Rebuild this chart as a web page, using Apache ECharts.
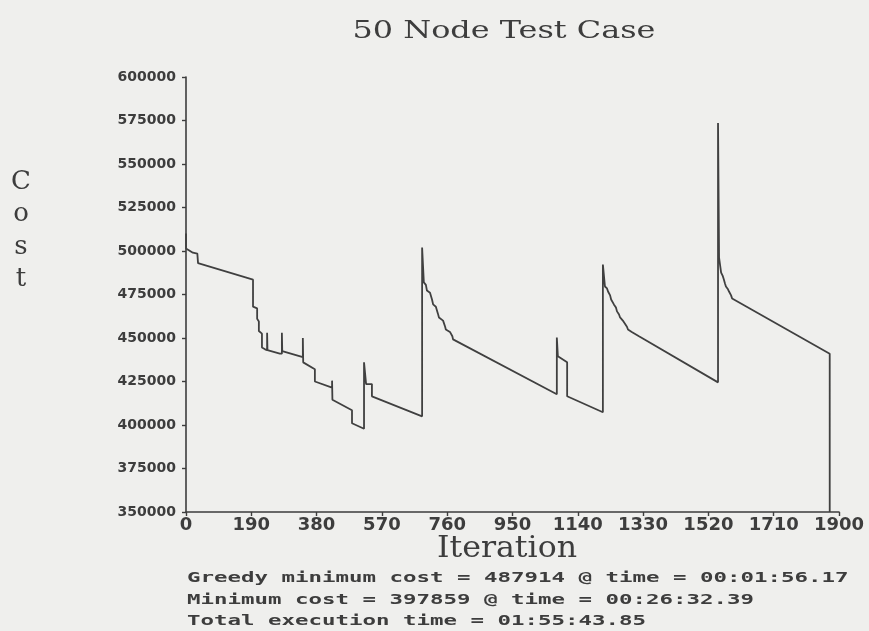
<!DOCTYPE html>
<html><head><meta charset="utf-8">
<script src="https://cdn.jsdelivr.net/npm/echarts@6/dist/echarts.min.js"></script>
<style>html,body{margin:0;padding:0;background:#efefed}#c{width:869px;height:631px}</style>
</head><body><div id="c"></div>
<script>
const titleText = '50 Node Test Case';
const xAxisName = 'Iteration';
const yAxisLetters = ['C', 'o', 's', 't'];
const infoLines = [
  'Greedy minimum cost = 487914 @ time = 00:01:56.17',
  'Minimum cost = 397859 @ time = 00:26:32.39',
  'Total execution time = 01:55:43.85'
];
const xMin = 0, xMax = 1900, xStep = 190;
const yMin = 350000, yMax = 600000, yStep = 25000;

const iterations = [
  0, 0, 20, 33, 35, 195, 195, 207, 207, 212, 212, 221, 221, 230, 236, 236, 237,
  273, 279, 279, 280, 340, 340, 341, 375, 375, 425, 425, 426, 483, 483, 518,
  518, 524, 541, 541, 687, 687, 692, 698, 701, 710, 713, 716, 719, 727, 730, 733, 736, 748, 751, 754, 756, 768, 771, 775, 777,
  1079, 1079, 1082, 1109, 1109, 1213, 1213, 1219, 1225, 1228, 1234, 1237, 1242, 1245, 1251, 1254, 1260, 1263,
  1271, 1274, 1283, 1286, 1297, 1300, 1318, 1321, 1548, 1548, 1551, 1557, 1562, 1565, 1568, 1571, 1577, 1580, 1586, 1589, 1873, 1873
];
const costs = [
  510000, 501500, 499000, 498500, 493000, 483500, 468000, 467000, 461000, 459500, 454000, 452500,
  444500, 443500, 443000, 453000, 443000,
  441000, 441000, 453000, 442500, 439000, 450000, 436000, 432000, 425000, 421500, 425500, 414500,
  408500, 401000, 397859,
  436000, 423500, 423500, 416500, 405000, 502000, 482000, 480500, 477300, 476000, 475000, 472000, 469300, 468000, 467000, 464000, 461800,
  460000, 458900, 456500, 454900, 453500, 452600, 451000, 449200,
  417700, 450300, 439500, 436000, 416500, 407300, 492200, 479600, 478500, 476700, 474500, 472100, 471000, 469300, 467500, 465300, 463500, 461800,
  460000, 458900, 456500, 454900, 453500, 452600, 451000, 450300, 424500, 573600, 496200, 487600, 485500, 483600, 481500, 479600, 478000, 476700,
  474500, 472700, 441000, 350000
];

const ink = '#3d3d3d';
function measure(text, font) {
  const ctx = document.createElement('canvas').getContext('2d');
  ctx.font = font;
  return ctx.measureText(text).width;
}
function scaledText(text, font, targetWidth, x, y, align) {
  const s = targetWidth / measure(text, font);
  return {
    type: 'text', x: x, y: y, scaleX: s, scaleY: 1, silent: true,
    style: { text: text, x: 0, y: 0, font: font, fill: ink,
      textAlign: align, align: align, textVerticalAlign: 'middle', verticalAlign: 'middle' }
  };
}

const serifTitle = '25px "DejaVu Serif"';
const serifName = '30px "DejaVu Serif"';
const serifCost = '26px "DejaVu Serif"';
const monoInfo = 'bold 14px "DejaVu Sans Mono"';

const graphics = [];
graphics.push(scaledText(titleText, serifTitle, 303, 504, 31, 'center'));
graphics.push(scaledText(xAxisName, serifName, 140, 507, 549, 'center'));
const costYs = [182, 214, 247, 279];
yAxisLetters.forEach((ch, i) => {
  graphics.push({ type: 'text', x: 21, y: costYs[i], silent: true,
    style: { text: ch, x: 0, y: 0, font: serifCost, fill: ink,
      textAlign: 'center', align: 'center', textVerticalAlign: 'middle', verticalAlign: 'middle' } });
});
const infoYs = [578, 600, 621];
infoLines.forEach((t, i) => {
  graphics.push(scaledText(t, monoInfo, t.length * 13.5, 187, infoYs[i], 'left'));
});

const chart = echarts.init(document.getElementById('c'), null, { renderer: 'canvas' });
chart.setOption({
  backgroundColor: '#efefed',
  animation: false,
  grid: { left: 186, right: 30, top: 77, bottom: 119, containLabel: false },
  xAxis: {
    type: 'value', min: xMin, max: xMax, interval: xStep,
    axisLine: { show: true, onZero: false, lineStyle: { color: ink, width: 1.6 } },
    axisTick: { show: true, length: 4, lineStyle: { color: ink, width: 1.4 } },
    splitLine: { show: false },
    axisLabel: { color: ink, fontFamily: 'DejaVu Sans', fontWeight: 'bold', fontSize: 18, margin: 4,
      formatter: v => String(v) }
  },
  yAxis: {
    type: 'value', min: yMin, max: yMax, interval: yStep,
    axisLine: { show: true, onZero: false, lineStyle: { color: ink, width: 1.6 } },
    axisTick: { show: true, length: 4, lineStyle: { color: ink, width: 1.4 } },
    splitLine: { show: false },
    axisLabel: { color: ink, fontFamily: 'DejaVu Sans', fontWeight: 'bold', fontSize: 14, margin: 10,
      formatter: v => String(v) }
  },
  series: [{
    type: 'line',
    data: iterations.map((it, i) => [it, costs[i]]),
    showSymbol: false, symbol: 'none',
    lineStyle: { color: '#404040', width: 1.8 },
    clip: true
  }],
  graphic: graphics
});
</script>
</body></html>
